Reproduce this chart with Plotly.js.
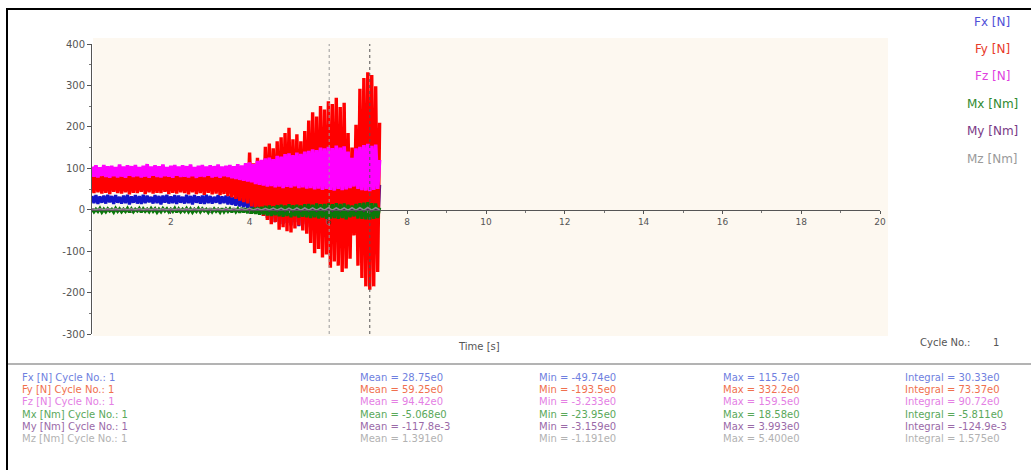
<!DOCTYPE html>
<html>
<head>
<meta charset="utf-8">
<script src="https://cdn.plot.ly/plotly-3.0.1.min.js"></script>
<style>
  html, body { margin:0; padding:0; background:#ffffff; }
  #wrap { position:relative; width:1031px; height:470px; overflow:hidden; }
  #chart { position:absolute; left:0; top:0; width:1031px; height:470px; }
  #frameTop { position:absolute; left:6px; top:8px; width:1025px; height:2px; background:#000; }
  #frameLeft { position:absolute; left:6px; top:8px; width:2px; height:462px; background:#000; }
</style>
</head>
<body>
<div id="wrap">
  <div id="chart"></div>
  <div id="frameTop"></div>
  <div id="frameLeft"></div>
</div>
<script>
// ---------------- DATA ----------------
// sample times (s), 0.05 s spacing
const time05 = [
 0,0.05,0.1,0.15,0.2,0.25,0.3,0.35,0.4,0.45,
 0.5,0.55,0.6,0.65,0.7,0.75,0.8,0.85,0.9,0.95,
 1,1.05,1.1,1.15,1.2,1.25,1.3,1.35,1.4,1.45,
 1.5,1.55,1.6,1.65,1.7,1.75,1.8,1.85,1.9,1.95,
 2,2.05,2.1,2.15,2.2,2.25,2.3,2.35,2.4,2.45,
 2.5,2.55,2.6,2.65,2.7,2.75,2.8,2.85,2.9,2.95,
 3,3.05,3.1,3.15,3.2,3.25,3.3,3.35,3.4,3.45,
 3.5,3.55,3.6,3.65,3.7,3.75,3.8,3.85,3.9,3.95,
 4,4.05,4.1,4.15,4.2,4.25,4.3,4.35,4.4,4.45,
 4.5,4.55,4.6,4.65,4.7,4.75,4.8,4.85,4.9,4.95,
 5,5.05,5.1,5.15,5.2,5.25,5.3,5.35,5.4,5.45,
 5.5,5.55,5.6,5.65,5.7,5.75,5.8,5.85,5.9,5.95,
 6,6.05,6.1,6.15,6.2,6.25,6.3,6.35,6.4,6.45,
 6.5,6.55,6.6,6.65,6.7,6.75,6.8,6.85,6.9,6.95,
 7,7.05,7.1,7.15,7.2,7.25,7.3
];
// sample times (s), 0.1 s spacing (moment channels My, Mz)
const time10 = [
 0,0.1,0.2,0.3,0.4,0.5,0.6,0.7,0.8,0.9,
 1,1.1,1.2,1.3,1.4,1.5,1.6,1.7,1.8,1.9,
 2,2.1,2.2,2.3,2.4,2.5,2.6,2.7,2.8,2.9,
 3,3.1,3.2,3.3,3.4,3.5,3.6,3.7,3.8,3.9,
 4,4.1,4.2,4.3,4.4,4.5,4.6,4.7,4.8,4.9,
 5,5.1,5.2,5.3,5.4,5.5,5.6,5.7,5.8,5.9,
 6,6.1,6.2,6.3,6.4,6.5,6.6,6.7,6.8,6.9,
 7,7.1,7.2,7.3
];

const fx = [
 33,16,35,14,32,17,34,15,36,18,
 33,14,35,17,31,15,34,16,36,13,
 32,17,35,15,33,14,36,16,34,18,
 31,15,35,16,33,13,34,17,36,15,
 32,16,35,14,34,17,31,15,36,16,
 33,13,35,17,32,15,34,14,36,16,
 33,15,31,17,35,14,32,16,34,13,
 33,12,30,10,32,8,29,6,31,5,
 35,0,40,-5,45,-10,50,-15,60,-20,
 70,-25,65,-30,80,-28,75,-35,85,-32,
 90,-38,82,-30,95,-40,88,-35,92,-42,
 98,-40,94,-45,102,-38,96,-44,105,-46,
 108,-48,100,-42,112,-47,104,-44,110,-49,
 90,-35,80,-30,104,-42,112,-46,115,-48,
 110,-49,106,-44,98,-40,60
];
const fy = [
 84,40,88,42,82,39,90,41,86,38,
 89,43,83,40,92,39,85,42,88,37,
 87,41,91,40,84,43,89,38,86,42,
 90,39,85,41,88,40,92,43,84,38,
 89,41,86,39,93,42,85,40,88,37,
 91,42,84,38,89,40,87,36,92,41,
 86,37,90,39,94,35,88,38,91,33,
 96,30,92,26,99,22,95,18,104,15,
 138,8,112,2,125,-8,118,-15,152,-25,
 160,-35,148,-30,165,-48,175,-42,185,-52,
 198,-55,170,-45,182,-38,165,-50,190,-58,
 215,-80,235,-105,225,-95,250,-115,242,-108,
 262,-140,255,-125,270,-135,248,-150,258,-142,
 185,-118,150,-62,205,-135,292,-165,318,-185,
 332,-193,325,-185,298,-150,210
];
const fz = [
 104,80,107,78,102,82,108,79,105,77,
 106,81,103,78,109,80,104,77,107,82,
 105,79,108,81,103,78,106,80,110,77,
 104,82,107,79,105,78,109,81,103,80,
 106,77,108,82,104,79,107,80,105,78,
 109,81,103,77,106,80,108,79,104,82,
 107,78,105,80,109,77,104,81,106,79,
 108,76,105,74,110,72,107,70,112,68,
 114,66,110,62,118,60,120,58,124,56,
 126,57,122,54,130,56,128,52,134,55,
 136,53,132,56,138,52,135,54,140,51,
 142,52,146,49,144,51,150,48,148,50,
 152,48,149,46,155,50,150,47,153,49,
 140,52,125,56,148,50,152,47,156,46,
 159,45,154,48,157,50,120
];
const mx = [
 2,-5,1,-4,3,-6,1,-5,2,-3,
 1,-6,3,-4,2,-5,1,-4,3,-6,
 2,-5,1,-3,3,-6,2,-4,1,-5,
 3,-4,2,-6,1,-5,3,-3,2,-5,
 1,-4,3,-6,2,-5,1,-4,3,-5,
 2,-6,1,-4,3,-5,2,-3,1,-6,
 3,-5,2,-4,1,-6,3,-5,2,-4,
 2,-6,3,-5,2,-7,4,-6,3,-8,
 4,-9,5,-10,6,-12,7,-11,9,-14,
 10,-15,8,-13,11,-16,12,-17,10,-15,
 13,-18,11,-16,12,-19,10,-17,13,-18,
 14,-20,12,-18,15,-21,13,-19,14,-22,
 15,-21,13,-20,16,-22,14,-20,15,-23,
 12,-18,10,-16,14,-21,16,-22,17,-23,
 18,-24,16,-22,15,-20,5
];
const my = [
 1.2,-1.5,1.0,-1.8,1.4,-1.3,1.1,-1.6,1.3,-1.4,
 1.2,-1.7,1.0,-1.5,1.4,-1.2,1.1,-1.6,1.3,-1.5,
 1.1,-1.4,1.3,-1.7,1.0,-1.5,1.2,-1.3,1.4,-1.6,
 1.2,-1.5,1.1,-1.8,1.3,-1.4,1.5,-1.9,1.6,-2.0,
 1.8,-2.2,2.1,-2.4,2.3,-2.6,2.5,-2.7,2.8,-2.9,
 2.9,-2.8,3.1,-3.0,3.2,-2.9,3.4,-3.1,3.3,-3.0,
 3.5,-3.1,3.6,-3.0,3.2,-2.8,3.7,-3.1,4.0,-3.2,
 3.9,-3.1,3.6,-2.5
];
const mz = [
 2.4,0.4,2.2,0.6,2.5,0.3,2.3,0.5,2.1,0.4,
 2.3,0.6,2.5,0.3,2.2,0.5,2.4,0.4,2.3,0.6,
 2.2,0.3,2.4,0.5,2.5,0.4,2.1,0.6,2.3,0.3,
 2.4,0.5,2.2,0.2,2.6,0.1,2.8,-0.1,3.0,-0.2,
 3.2,-0.4,3.4,-0.5,3.6,-0.6,3.8,-0.7,4.0,-0.8,
 4.1,-0.8,4.3,-0.9,4.2,-1.0,4.5,-0.9,4.6,-1.0,
 4.8,-1.1,4.7,-1.0,4.4,-0.8,4.9,-1.1,5.2,-1.2,
 5.4,-1.1,5.0,-0.5
];

const channelNames = ["Fx [N]", "Fy [N]", "Fz [N]", "Mx [Nm]", "My [Nm]", "Mz [Nm]"];
const channelColors = ["#1414c8", "#ff0000", "#ff00ff", "#0a780a", "#800080", "#8c8c8c"];
const legendColors  = ["#5050d8", "#e83a2a", "#e040e0", "#2f8a2f", "#7a3a86", "#9a9a9a"];
const tableColors   = ["#6f7fe0", "#f0704e", "#e480e4", "#5aa85a", "#9a6aa8", "#b2b2b2"];

const statMean     = ["28.75e0", "59.25e0", "94.42e0", "-5.068e0", "-117.8e-3", "1.391e0"];
const statMin      = ["-49.74e0", "-193.5e0", "-3.233e0", "-23.95e0", "-3.159e0", "-1.191e0"];
const statMax      = ["115.7e0", "332.2e0", "159.5e0", "18.58e0", "3.993e0", "5.400e0"];
const statIntegral = ["30.33e0", "73.37e0", "90.72e0", "-5.811e0", "-124.9e-3", "1.575e0"];
const cycleNo = 1;

const cursorTimes = [6.02, 7.05];
const xTickVals = [2, 4, 6, 8, 10, 12, 14, 16, 18, 20];
const xMinorVals = [1, 3, 5, 7, 9, 11, 13, 15, 17, 19];
const yTickVals = [-300, -200, -100, 0, 100, 200, 300, 400];

// ---------------- LAYOUT HELPERS (pixel -> paper) ----------------
const W = 1031, H = 470;
const PL = 92, PR = 880, PT = 44, PB = 334;
const px2x = p => (p - PL) / (PR - PL);
const py2y = p => (PB - p) / (PB - PT);

const seriesX = [time05, time05, time05, time05, time10, time10];
const seriesY = [fx, fy, fz, mx, my, mz];
const widths = [3.2, 3.4, 3.6, 3.2, 1.5, 1.5];

const traces = seriesY.map((ys, k) => ({
  type: "scatter",
  mode: "lines",
  name: channelNames[k],
  x: seriesX[k],
  y: ys,
  line: { color: channelColors[k], width: widths[k] },
  showlegend: false,
  hoverinfo: "skip"
}));

const FONT = "DejaVu Sans, Liberation Sans, Arial, sans-serif";
const annotations = [];

// legend-like channel labels at the right
const legendY = [22, 49, 76, 104, 131, 159];
channelNames.forEach((n, k) => {
  annotations.push({
    xref: "paper", yref: "paper", x: px2x(992), y: py2y(legendY[k]),
    xanchor: "center", yanchor: "middle", showarrow: false,
    text: n, font: { family: FONT, size: 12, color: legendColors[k] }
  });
});

// axis title and cycle label
annotations.push({
  xref: "paper", yref: "paper", x: px2x(479), y: py2y(346),
  xanchor: "center", yanchor: "middle", showarrow: false,
  text: "Time [s]", font: { family: FONT, size: 10, color: "#555555" }
});
annotations.push({
  xref: "paper", yref: "paper", x: px2x(918), y: py2y(342),
  xanchor: "left", yanchor: "middle", showarrow: false,
  text: "Cycle No.:", font: { family: FONT, size: 10, color: "#555555" }
});
annotations.push({
  xref: "paper", yref: "paper", x: px2x(996), y: py2y(342),
  xanchor: "center", yanchor: "middle", showarrow: false,
  text: String(cycleNo), font: { family: FONT, size: 10, color: "#555555" }
});

// statistics table
const rowY = [377, 389, 401, 414, 426, 438];
const colX = [20, 358, 537, 721, 903];
channelNames.forEach((n, k) => {
  const cells = [
    n + " Cycle No.: " + cycleNo,
    "Mean = " + statMean[k],
    "Min = " + statMin[k],
    "Max = " + statMax[k],
    "Integral = " + statIntegral[k]
  ];
  cells.forEach((c, j) => {
    annotations.push({
      xref: "paper", yref: "paper", x: px2x(colX[j]), y: py2y(rowY[k]),
      xanchor: "left", yanchor: "middle", showarrow: false,
      text: c, font: { family: FONT, size: 10, color: tableColors[k] }
    });
  });
});

const shapes = [
  // beige plot background
  { type: "rect", xref: "paper", yref: "paper", layer: "below",
    x0: px2x(93), x1: px2x(888), y0: py2y(336), y1: py2y(38),
    fillcolor: "#fdf8f0", line: { width: 0 } },
  // separator line above the statistics table
  { type: "line", xref: "paper", yref: "paper", layer: "above",
    x0: px2x(8), x1: px2x(1031), y0: py2y(364), y1: py2y(364),
    line: { color: "#9a9a9a", width: 1.5 } }
];
// cursor lines
cursorTimes.forEach((t, i) => {
  shapes.push({ type: "line", xref: "x", yref: "paper", layer: "above",
    x0: t, x1: t, y0: 0, y1: 1,
    line: { color: i === 0 ? "#9a9a9a" : "#555555", width: 1, dash: "dot" } });
});

const layout = {
  width: W, height: H,
  margin: { l: PL, r: W - PR, t: PT, b: H - PB, pad: 0 },
  paper_bgcolor: "rgba(0,0,0,0)",
  plot_bgcolor: "rgba(0,0,0,0)",
  hovermode: false,
  showlegend: false,
  font: { family: FONT, color: "#555555" },
  xaxis: {
    range: [0, 20], anchor: "free", position: 300 / 700,
    showline: true, linecolor: "#555555", linewidth: 1,
    ticks: "outside", ticklen: 3, tickcolor: "#555555",
    tickvals: xTickVals, ticktext: xTickVals.map(String),
    tickfont: { family: FONT, size: 9, color: "#555555" },
    minor: { tickvals: xMinorVals, ticks: "outside", ticklen: 2, tickcolor: "#777777" },
    showgrid: false, zeroline: false, fixedrange: true
  },
  yaxis: {
    range: [-300, 400],
    showline: true, linecolor: "#555555", linewidth: 1,
    ticks: "outside", ticklen: 4, tickcolor: "#555555",
    tickvals: yTickVals, ticktext: yTickVals.map(v => String(v)),
    tickfont: { family: FONT, size: 10, color: "#555555" },
    minor: { dtick: 50, ticks: "outside", ticklen: 2, tickcolor: "#777777" },
    showgrid: false, zeroline: false, fixedrange: true
  },
  shapes: shapes,
  annotations: annotations
};

Plotly.newPlot("chart", traces, layout, { displayModeBar: false, staticPlot: true });
</script>
</body>
</html>
